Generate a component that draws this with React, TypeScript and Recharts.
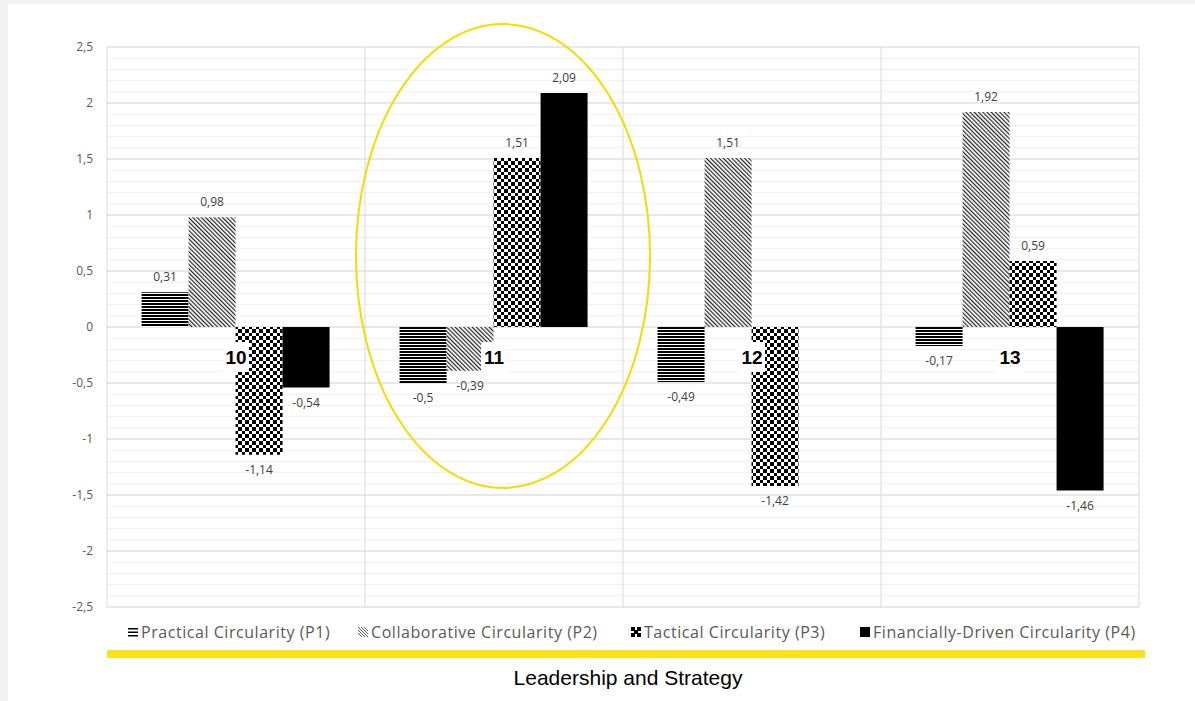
import React from "react";
import {
  BarChart,
  Bar,
  XAxis,
  YAxis,
  CartesianGrid,
  LabelList,
  ReferenceDot,
} from "recharts";

const CATEGORIES = ["10", "11", "12", "13"];
const P1_VALUES = [0.31, -0.5, -0.49, -0.17];
const P2_VALUES = [0.98, -0.39, 1.51, 1.92];
const P3_VALUES = [-1.14, 1.51, -1.42, 0.59];
const P4_VALUES = [-0.54, 2.09, 0, -1.46];

const SERIES_NAMES = [
  "Practical Circularity (P1)",
  "Collaborative Circularity (P2)",
  "Tactical Circularity (P3)",
  "Financially-Driven Circularity (P4)",
];

const Y_TICKS = [-2.5, -2, -1.5, -1, -0.5, 0, 0.5, 1, 1.5, 2, 2.5];
const MINOR_TICKS = Array.from({ length: 51 }, (_, i) => (i - 25) / 10);

const TITLE = "Leadership and Strategy";

const data = CATEGORIES.map((cat, i) => ({
  cat,
  p1: P1_VALUES[i],
  p2: P2_VALUES[i],
  p3: P3_VALUES[i],
  p4: P4_VALUES[i],
}));

const fmt = (v: number) => String(v).replace(".", ",");

const LABEL_FONT = "'Open Sans', 'Noto Sans', sans-serif";

function ValueLabel(props: any) {
  const { x, y, width, height, value } = props;
  if (value === undefined || value === null) return null;
  const top = Math.min(y, y + height);
  const bottom = Math.max(y, y + height);
  const cx = x + width / 2;
  const ty = value >= 0 ? top - 14 : bottom + 16;
  return (
    <text
      x={cx}
      y={ty}
      textAnchor="middle"
      dominantBaseline="middle"
      fontSize={12}
      fontFamily={LABEL_FONT}
      fill="#404040"
    >
      {fmt(value)}
    </text>
  );
}

function CategoryLabel(props: any) {
  const { viewBox, text } = props;
  const cx = viewBox.x + (viewBox.width || 0) / 2;
  const cy = viewBox.y + (viewBox.height || 0) / 2 + 30;
  return (
    <g>
      <rect x={cx - 13} y={cy - 15} width={26} height={30} fill="#ffffff" />
      <text
        x={cx}
        y={cy}
        textAnchor="middle"
        dominantBaseline="central"
        fontSize={19}
        fontWeight={700}
        fontFamily="'Liberation Sans', Arial, sans-serif"
        fill="#000000"
      >
        {text}
      </text>
    </g>
  );
}

function LegendIcon({ idx }: { idx: number }) {
  return (
    <svg width={10} height={10} style={{ marginRight: 3, flexShrink: 0 }}>
      {idx === 0 && (
        <g fill="#000">
          <rect x={0} y={1} width={10} height={1.5} />
          <rect x={0} y={4.5} width={10} height={1.5} />
          <rect x={0} y={8} width={10} height={1.5} />
        </g>
      )}
      {idx === 1 && (
        <g stroke="#333" strokeWidth={0.8}>
          <line x1={0} y1={0} x2={10} y2={10} />
          <line x1={3} y1={0} x2={10} y2={7} />
          <line x1={6} y1={0} x2={10} y2={4} />
          <line x1={0} y1={3} x2={7} y2={10} />
          <line x1={0} y1={6} x2={4} y2={10} />
        </g>
      )}
      {idx === 2 && (
        <g fill="#000">
          <rect x={0} y={0} width={4} height={4} />
          <rect x={6} y={0} width={4} height={4} />
          <rect x={3} y={3} width={4} height={4} />
          <rect x={0} y={6} width={4} height={4} />
          <rect x={6} y={6} width={4} height={4} />
        </g>
      )}
      {idx === 3 && <rect x={0} y={0} width={10} height={10} fill="#000" />}
    </svg>
  );
}

const LEGEND_LEFT = [128, 358, 631, 860];

const minorLines = ({ yAxis, offset }: any) =>
  MINOR_TICKS.map((v) =>
    yAxis && typeof yAxis.scale === "function"
      ? yAxis.scale(v)
      : offset.top + (offset.height * (2.5 - v)) / 5
  );

export default function App() {
  return (
    <div
      style={{
        position: "absolute",
        left: 0,
        top: 0,
        width: 1195,
        height: 701,
        background: "#f1f1f1",
        overflow: "hidden",
      }}
    >
      <div
        style={{
          position: "absolute",
          left: 8,
          top: 4,
          width: 1187,
          height: 697,
          background: "#ffffff",
        }}
      />
      <div style={{ position: "absolute", left: 0, top: 0 }}>
        <BarChart
          width={1195}
          height={640}
          data={data}
          margin={{ top: 47, right: 56, left: 47, bottom: 33 }}
          barCategoryGap="13.4%"
          barGap={0}
        >
          <defs>
            <pattern id="pat-p1" width={4} height={3} patternUnits="userSpaceOnUse">
              <rect width={4} height={3} fill="#ffffff" />
              <rect width={4} height={2} fill="#000000" />
            </pattern>
            <pattern
              id="pat-p2"
              width={3}
              height={3}
              patternUnits="userSpaceOnUse"
              patternTransform="rotate(-45)"
            >
              <rect width={3} height={3} fill="#ffffff" />
              <rect width={1.2} height={3} fill="#222222" />
            </pattern>
            <pattern id="pat-p3" width={7} height={7} patternUnits="userSpaceOnUse">
              <rect width={7} height={7} fill="#ffffff" />
              <rect x={0} y={0} width={4} height={4} fill="#000000" />
              <rect x={4} y={4} width={3} height={3} fill="#000000" />
            </pattern>
          </defs>
          <CartesianGrid
            vertical={false}
            stroke="#f0f0f0"
            horizontalCoordinatesGenerator={minorLines}
          />
          <CartesianGrid
            stroke="#d9d9d9"
            verticalCoordinatesGenerator={({ offset }: any) =>
              [0, 1, 2, 3, 4].map((i) => offset.left + (i * offset.width) / 4)
            }
          />
          <XAxis dataKey="cat" hide />
          <YAxis
            width={60}
            domain={[-2.5, 2.5]}
            ticks={Y_TICKS}
            tickFormatter={fmt}
            axisLine={false}
            tickLine={false}
            tickMargin={8}
            tick={{ fill: "#595959", fontSize: 12, fontFamily: LABEL_FONT }}
          />
          <Bar dataKey="p1" fill="url(#pat-p1)" isAnimationActive={false}>
            <LabelList dataKey="p1" content={ValueLabel} />
          </Bar>
          <Bar dataKey="p2" fill="url(#pat-p2)" isAnimationActive={false}>
            <LabelList dataKey="p2" content={ValueLabel} />
          </Bar>
          <Bar dataKey="p3" fill="url(#pat-p3)" isAnimationActive={false}>
            <LabelList dataKey="p3" content={ValueLabel} />
          </Bar>
          <Bar dataKey="p4" fill="#000000" isAnimationActive={false}>
            <LabelList dataKey="p4" content={ValueLabel} />
          </Bar>
          {CATEGORIES.map((c) => (
            <ReferenceDot
              key={c}
              x={c}
              y={0}
              r={0}
              fill="none"
              stroke="none"
              label={(p: any) => <CategoryLabel {...p} text={c} />}
            />
          ))}
        </BarChart>
      </div>
      <svg
        width={1195}
        height={701}
        style={{ position: "absolute", left: 0, top: 0, pointerEvents: "none" }}
      >
        <ellipse cx={503} cy={256} rx={147} ry={232} fill="none" stroke="#f5dc00" strokeWidth={2} />
      </svg>
      {SERIES_NAMES.map((name, i) => (
        <div
          key={name}
          style={{
            position: "absolute",
            left: LEGEND_LEFT[i],
            top: 621,
            height: 22,
            display: "flex",
            alignItems: "center",
            fontFamily: LABEL_FONT,
            fontSize: 16,
            letterSpacing: 0.55,
            color: "#595959",
            whiteSpace: "nowrap",
          }}
        >
          <LegendIcon idx={i} />
          <span>{name}</span>
        </div>
      ))}
      <div
        style={{
          position: "absolute",
          left: 107,
          top: 650,
          width: 1038,
          height: 8,
          background: "#f9e21c",
        }}
      />
      <div
        style={{
          position: "absolute",
          left: 107,
          top: 666,
          width: 1042,
          textAlign: "center",
          fontFamily: "'Liberation Sans', Arial, sans-serif",
          fontSize: 21,
          color: "#000000",
        }}
      >
        {TITLE}
      </div>
    </div>
  );
}
